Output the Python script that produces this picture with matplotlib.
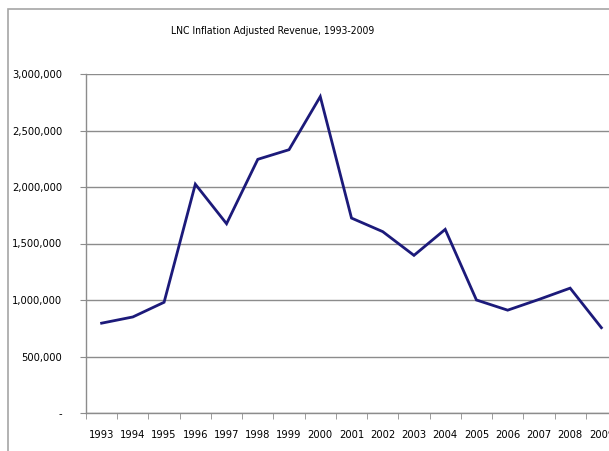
import matplotlib.pyplot as plt
from matplotlib.patches import Rectangle
from matplotlib.ticker import FuncFormatter, FixedLocator

plt.rcParams['font.family'] = ['DejaVu Sans']
plt.rcParams['font.stretch'] = 'condensed'

# Dados
anos = ['1993', '1994', '1995', '1996', '1997', '1998', '1999', '2000', '2001',
        '2002', '2003', '2004', '2005', '2006', '2007', '2008', '2009']
receita = [795000, 850000, 980000, 2025000, 1675000, 2245000, 2330000, 2800000,
           1725000, 1605000, 1395000, 1625000, 1000000, 910000, 1005000, 1105000,
           755000]

fig = plt.figure(figsize=(6.09, 4.51), dpi=100)
ax = fig.add_axes([86 / 609, 38 / 451, 531 / 609, 339 / 451])

x = range(len(anos))
ax.plot(x, receita, color='#1c1a7a', linewidth=2.0, solid_joinstyle='miter')

ax.set_xlim(-0.5, len(anos) - 0.5)
ax.set_ylim(0, 3000000)
ax.set_yticks(range(0, 3000001, 500000))
ax.yaxis.set_major_formatter(FuncFormatter(lambda v, p: '-' if v == 0 else f'{int(v):,}'))
ax.set_xticks(list(x))
ax.set_xticklabels(anos)
ax.xaxis.set_minor_locator(FixedLocator([i - 0.5 for i in range(len(anos) + 1)]))
ax.tick_params(axis='x', which='major', length=0, pad=12, labelsize=8)
ax.tick_params(axis='x', which='minor', length=4, color='#8c8c8c', direction='out')
ax.tick_params(axis='y', length=4, color='#8c8c8c', pad=13, labelsize=8)

ax.grid(True, axis='y', color='#8c8c8c', linewidth=1.0)
ax.set_axisbelow(True)
for s in ['top', 'right']:
    ax.spines[s].set_visible(False)
for s in ['left', 'bottom']:
    ax.spines[s].set_color('#8c8c8c')
    ax.spines[s].set_linewidth(1.0)

fig.text(273 / 609, 1 - 31 / 451, 'LNC Inflation Adjusted Revenue, 1993-2009',
         ha='center', va='center', fontsize=7.5)

# Borda do gráfico
fig.patches.append(Rectangle((8 / 609, -0.1), 1.2, 1 - 9 / 451 + 0.1,
                             transform=fig.transFigure, fill=False,
                             edgecolor='#a6a6a6', linewidth=1.2))

plt.savefig('out.png', dpi=100)
